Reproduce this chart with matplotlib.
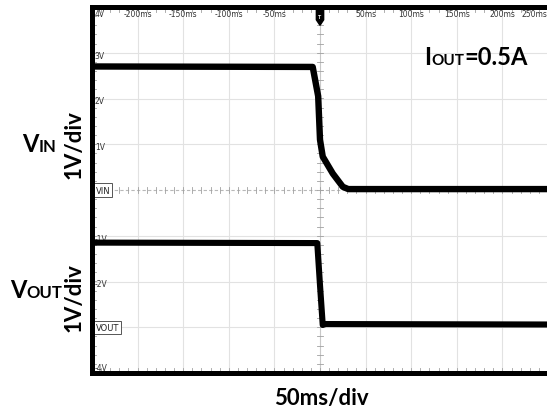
import numpy as np
import matplotlib.pyplot as plt

# scope settings (ms per division, volts per division)
t_div = 50
v_div = 1.0

# VIN trace (ms, V)
vin_t = [-250, -8, -2, 0, 3, 14, 25, 31, 250]
vin_v = [2.70, 2.69, 2.05, 1.10, 0.73, 0.36, 0.07, 0.02, 0.02]

# VOUT trace (ms, V)
vout_t = [-250, -3, 0, 3, 6, 250]
vout_v = [1.85, 1.84, 0.92, 0.05, 0.07, 0.06]

# channel offsets on screen (divisions)
vin_pos = 0
vout_pos = -3

x_labels = ['-200ms', '-150ms', '-100ms', '-50ms', '', '50ms', '100ms', '150ms', '200ms']
y_labels = {4: '4V', 3: '3V', 2: '2V', 1: '1V', -1: '-1V', -2: '-2V', -4: '-4V'}

plt.rcParams['font.family'] = ['Lato', 'DejaVu Sans']

W, H = 547, 414
fig = plt.figure(figsize=(W / 100, H / 100), dpi=100)
ax = fig.add_axes([92 / W, 1 - 374 / H, 456 / W, 366 / H])
ax.set_xlim(-5 * t_div, 5 * t_div)
ax.set_ylim(-4, 4)
ax.set_xticks([])
ax.set_yticks([])

for s in ['top', 'left', 'bottom']:
    ax.spines[s].set_linewidth(3.6)
ax.spines['right'].set_visible(False)

# graticule
grid_c = '#e2e2e2'
for k in range(-4, 5):
    if k != 0:
        ax.axvline(k * t_div, color=grid_c, lw=0.8, zorder=0)
for k in range(-3, 4):
    if k != 0:
        ax.axhline(k, color=grid_c, lw=0.8, zorder=0)

# center cross with minor ticks
ax.axhline(0, color='#b8b8b8', lw=0.8, ls=(0, (3, 2)), zorder=0)
ax.axvline(0, color='#c8c8c8', lw=0.8, zorder=0)
tick_c = '#a0a0a0'
for xm in np.arange(-250, 251, 10):
    ax.plot([xm, xm], [-0.06, 0.06], color=tick_c, lw=0.6, zorder=0)
    ax.plot([xm, xm], [4, 3.9], color=tick_c, lw=0.6, zorder=0)
    ax.plot([xm, xm], [-4, -3.9], color=tick_c, lw=0.6, zorder=0)
for ym in np.arange(-4, 4.01, 0.2):
    ax.plot([-3, 3], [ym, ym], color=tick_c, lw=0.6, zorder=0)
    ax.plot([-250, -246], [ym, ym], color=tick_c, lw=0.6, zorder=0)

# inner scale labels
narrow = ['Liberation Sans Narrow', 'DejaVu Sans']
lab_kw = dict(fontsize=5.5, color='#333333', family=narrow, zorder=1)
for k, lab in zip(range(-4, 5), x_labels):
    if lab:
        ax.text(k * t_div, 3.86, lab, ha='center', va='center', **lab_kw)
ax.text(249, 3.86, '250ms', ha='right', va='center', **lab_kw)
for k, lab in y_labels.items():
    yy = {4: 3.86, -4: -3.88}.get(k, k - 0.05)
    ax.text(-247, yy, lab, ha='left', va='center', **lab_kw)

# channel ground markers
box = dict(boxstyle='square,pad=0.25', fc='white', ec='#555555', lw=0.7)
ax.text(-246, vin_pos, 'VIN', ha='left', va='center', fontsize=6, color='#222222',
        family=narrow, bbox=box, zorder=2)
ax.text(-246, vout_pos, 'VOUT', ha='left', va='center', fontsize=6, color='#222222',
        family=narrow, bbox=box, zorder=2)

# trigger marker
ax.fill([-4, 4, 4, 0, -4], [3.98, 3.98, 3.72, 3.6, 3.72], color='black', zorder=3, clip_on=False)
ax.text(0, 3.8, 'T', ha='center', va='center', fontsize=4, color='white', weight='bold', zorder=4)

# traces
ax.plot(vin_t, np.array(vin_v) / v_div + vin_pos, color='black', lw=4.6,
        solid_joinstyle='round', solid_capstyle='butt', zorder=5)
ax.plot(vout_t, np.array(vout_v) / v_div + vout_pos, color='black', lw=4.4,
        solid_joinstyle='round', solid_capstyle='butt', zorder=5)


def mixed_text(x_px, base_px, parts):
    """Write consecutive pieces of text of different sizes on one baseline."""
    renderer = fig.canvas.get_renderer()
    x = x_px
    for s, size in parts:
        t = fig.text(x / W, 1 - base_px / H, s, fontsize=size, weight='bold',
                     ha='left', va='baseline', color='black')
        x += t.get_window_extent(renderer).width


mixed_text(22, 152, [('V', 17), ('IN', 12)])
mixed_text(10, 298, [('V', 17), ('OUT', 12)])
mixed_text(424, 65, [('I', 17), ('OUT', 11), ('=0.5A', 17)])

fig.text(74 / W, 1 - 145 / H, '1V/div', rotation=90, fontsize=16, weight='bold',
         ha='center', va='center')
fig.text(74 / W, 1 - 298 / H, '1V/div', rotation=90, fontsize=16, weight='bold',
         ha='center', va='center')
fig.text(321 / W, 1 - 405 / H, '50ms/div', fontsize=16, weight='bold',
         ha='center', va='baseline')

fig.savefig('out.png', dpi=100)
